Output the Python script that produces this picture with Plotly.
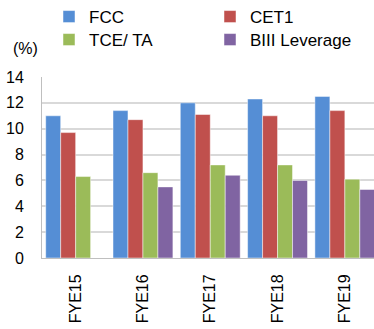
import plotly.graph_objects as go

categories = ["FYE15", "FYE16", "FYE17", "FYE18", "FYE19"]
fcc = [11.0, 11.4, 12.0, 12.3, 12.5]
cet1 = [9.7, 10.7, 11.1, 11.0, 11.4]
tce_ta = [6.3, 6.6, 7.2, 7.2, 6.1]
biii_lev = [None, 5.5, 6.4, 6.0, 5.3]
series_names = ["FCC", "CET1", "TCE/ TA", "BIII Leverage"]
colors = ["#558ED5", "#C0504D", "#9BBB59", "#8064A2"]
legend_rows = ["legend", "legend", "legend2", "legend2"]
y_ticks = [0, 2, 4, 6, 8, 10, 12, 14]

W, H = 374, 329
L, R, T, B = 42, 0, 77, 71
FONT = "Liberation Sans, Arial, sans-serif"

fig = go.Figure()
for name, vals, col, lg in zip(series_names, [fcc, cet1, tce_ta, biii_lev], colors, legend_rows):
    fig.add_trace(go.Bar(
        x=categories, y=vals, name=name, legend=lg,
        marker=dict(color=col, line=dict(color="rgba(255,255,255,0.6)", width=0.8)),
    ))

plot_w = W - L - R
cat_px = 67.3
x_right = -0.5 + plot_w / cat_px

leg_common = dict(
    orientation="h", xref="container", yref="container",
    xanchor="left", yanchor="middle",
    entrywidth=116, entrywidthmode="pixels",
    font=dict(size=17, family=FONT), itemclick=False,
    bgcolor="rgba(0,0,0,0)", borderwidth=0,
)

fig.update_layout(
    width=W, height=H,
    margin=dict(l=L, r=R, t=T, b=B, autoexpand=False),
    paper_bgcolor="white", plot_bgcolor="white",
    barmode="group", bargap=0.11, bargroupgap=0,
    font=dict(family=FONT, color="#000000"),
    showlegend=True,
    legend=dict(leg_common, x=49 / W, y=1 - 17 / H),
    legend2=dict(leg_common, x=49 / W, y=1 - 40 / H),
    xaxis=dict(
        type="category", range=[-0.5, x_right], automargin=False,
        tickangle=-90, tickfont=dict(size=16, family=FONT),
        showgrid=False, showline=True, linecolor="#BFBFBF", linewidth=1,
        ticks="", ticklabelstandoff=9, fixedrange=True,
    ),
    yaxis=dict(
        range=[0, 14], tickvals=y_ticks, ticktext=[str(v) for v in y_ticks],
        tickfont=dict(size=16, family=FONT), automargin=False,
        showgrid=True, gridcolor="#D9D9D9", gridwidth=1.5,
        showline=True, linecolor="#BFBFBF", linewidth=1,
        zeroline=False, ticks="", ticklabelstandoff=14, fixedrange=True,
    ),
    annotations=[dict(
        text="(%)", xref="paper", yref="paper",
        x=(25 - L) / plot_w, y=(H - B - 49) / (H - T - B),
        xanchor="center", yanchor="middle", showarrow=False,
        font=dict(size=16, family=FONT),
    )],
)

fig.write_html("out.html", config={"displayModeBar": False},
               post_script="document.body.style.margin='0';document.body.style.padding='0';")
